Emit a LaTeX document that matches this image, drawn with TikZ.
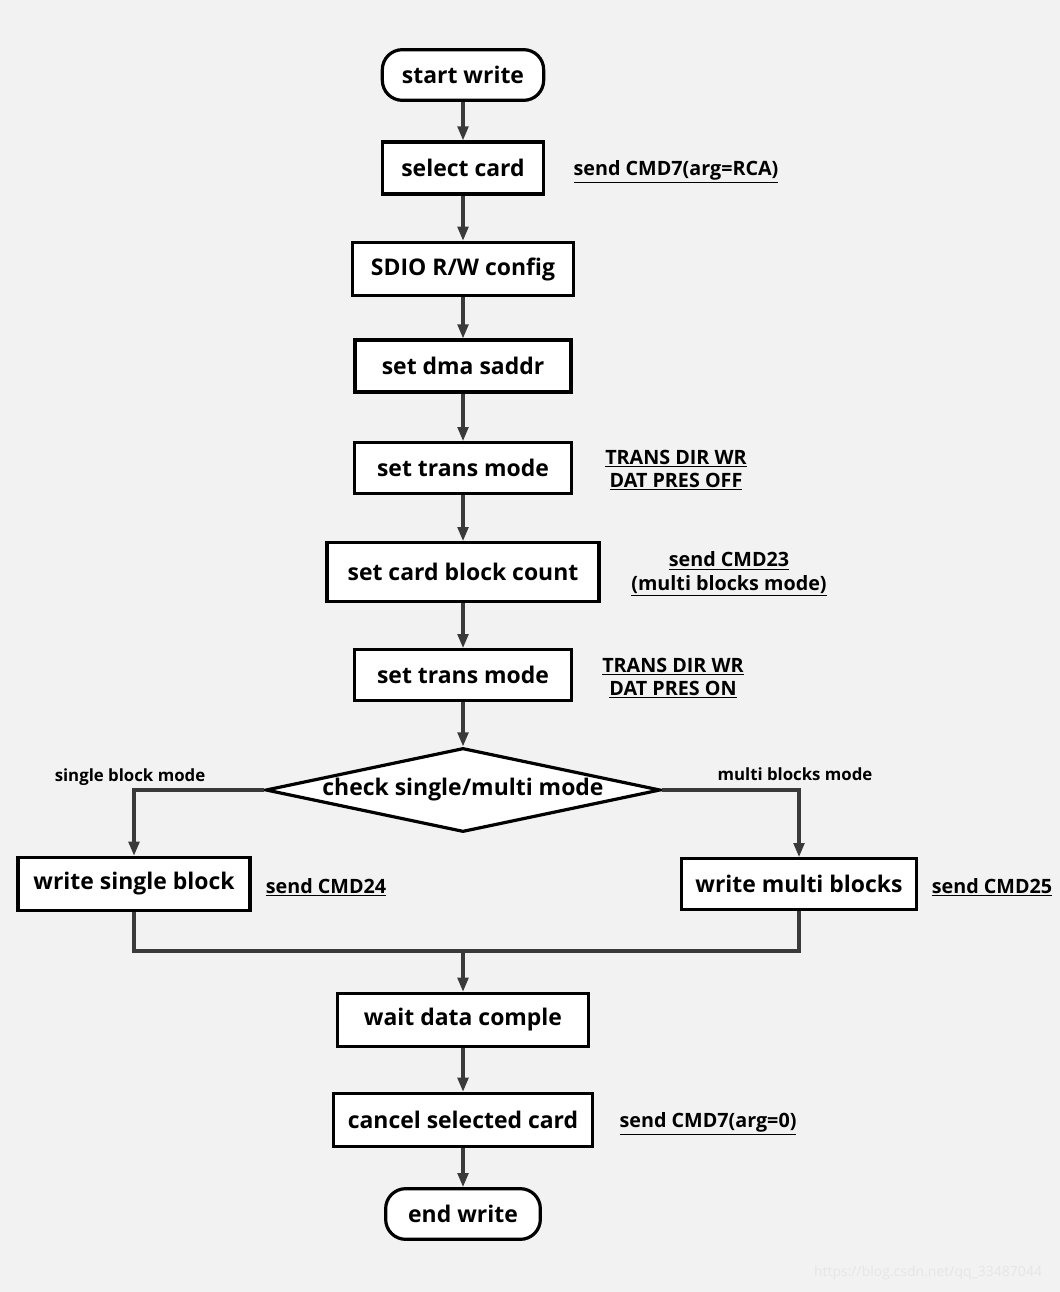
\documentclass[tikz,border=0pt]{standalone}
\usepackage{fontspec}
\setmainfont{Open Sans}
\usetikzlibrary{shapes.geometric,arrows.meta}
\definecolor{bgc}{HTML}{F2F2F2}
\definecolor{linec}{HTML}{3A3A3A}
\definecolor{wmc}{HTML}{E6E6E6}
\begin{document}
\begin{tikzpicture}[x=0.75pt,y=-0.75pt,
  box/.style={draw=black,line width=2.4pt,fill=white,inner sep=0pt,
    font=\fontsize{17.2}{20}\selectfont\bfseries},
  term/.style={box,rounded corners=15pt},
  conn/.style={draw=linec,line width=2.3pt,-{Triangle[length=10.5pt,width=8pt]}},
  plain/.style={draw=linec,line width=2.3pt},
  note/.style={font=\fontsize{14.8}{17.5}\selectfont\bfseries,align=center,inner sep=0pt},
  modelbl/.style={font=\fontsize{12.6}{14}\selectfont\bfseries,inner sep=0pt},
  wm/.style={font=\fontsize{10.5}{12}\selectfont,text=wmc,inner sep=0pt}]
\fill[bgc] (0,0) rectangle (1060,1292);
\useasboundingbox (0,0) rectangle (1060,1292);

% main column
\node[term, minimum width=121pt, minimum height=38pt] (start) at (463,75) {start write};
\node[box, minimum width=121pt, minimum height=39pt] (sel) at (463,168) {select card};
\node[box, minimum width=166pt, minimum height=40pt] (sdio) at (463,269) {SDIO R/W config};
\node[box, minimum width=162pt, minimum height=39pt] (dma) at (463,366) {set dma saddr};
\node[box, minimum width=163pt, minimum height=38pt] (tm1) at (463,468) {set trans mode};
\node[box, minimum width=204pt, minimum height=44pt] (cnt) at (463,572) {set card block count};
\node[box, minimum width=163pt, minimum height=38pt] (tm2) at (463,675) {set trans mode};
\node[box, shape=diamond, shape aspect=4.7, minimum width=296pt, minimum height=63pt] (chk) at (463,790) {check single/multi mode};
\node[box, minimum width=174pt, minimum height=40pt] (wsb) at (134,884) {write single block};
\node[box, minimum width=176pt, minimum height=38pt] (wmb) at (799,884) {write multi blocks};
\node[box, minimum width=188pt, minimum height=40pt] (wait) at (463,1020) {wait data comple};
\node[box, minimum width=194pt, minimum height=40pt] (cancel) at (463,1120) {cancel selected card};
\node[term, minimum width=116pt, minimum height=38pt] (end) at (463,1214) {end write};

% notes
\node[note] (lsel) at (676,172) {\underline{send CMD7(arg=RCA)}};
\node[note] (ltm1) at (676,470) {\underline{TRANS DIR WR}\\\underline{DAT PRES OFF}};
\node[note] (lcnt) at (729,574) {\underline{send CMD23}\\\underline{(multi blocks mode)}};
\node[note] (ltm2) at (673,678) {\underline{TRANS DIR WR}\\\underline{DAT PRES ON}};
\node[note] (lwsb) at (326,887) {\underline{send CMD24}};
\node[note] (lwmb) at (992,887) {\underline{send CMD25}};
\node[note] (lcancel) at (708,1124) {\underline{send CMD7(arg=0)}};
\node[modelbl] (lsingle) at (130,777) {single block mode};
\node[modelbl] (lmulti) at (795,774) {multi blocks mode};
\node[wm] (wmark) at (928,1273) {https://blog.csdn.net/qq\_33487044};

% connectors
\draw[conn] (start) -- (sel);
\draw[conn] (sel) -- (sdio);
\draw[conn] (sdio) -- (dma);
\draw[conn] (dma) -- (tm1);
\draw[conn] (tm1) -- (cnt);
\draw[conn] (cnt) -- (tm2);
\draw[conn] (tm2) -- (chk);
\draw[conn] (chk.west) -| (wsb.north);
\draw[conn] (chk.east) -| (wmb.north);
\coordinate (merge) at (463,951);
\draw[plain] (wsb.south) |- (merge);
\draw[plain] (wmb.south) |- (merge);
\draw[conn] (merge) -- (wait);
\draw[conn] (wait) -- (cancel);
\draw[conn] (cancel) -- (end);
\end{tikzpicture}
\end{document}
